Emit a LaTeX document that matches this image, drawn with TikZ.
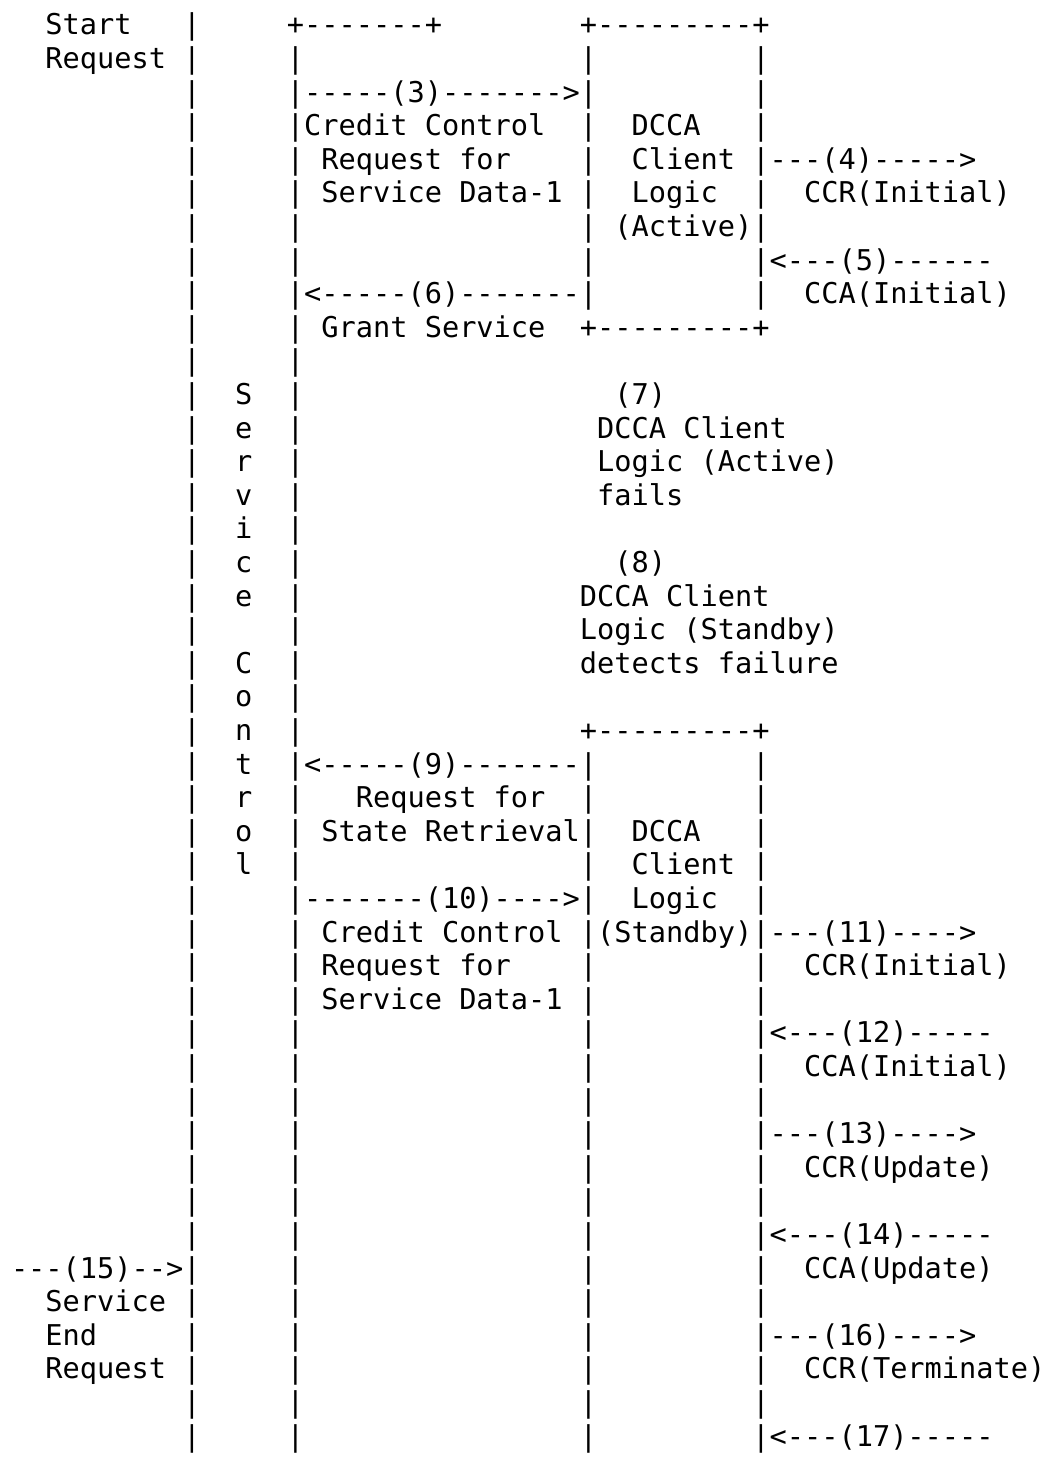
\documentclass[tikz,border=0pt]{standalone}
\usepackage{fontspec}
\setmonofont{DejaVu Sans Mono}
\begin{document}
\begin{tikzpicture}[x=8.62pt, y=-16.8pt,
  ch/.style={inner sep=0pt, outer sep=0pt, anchor=base west,
    font=\ttfamily\fontsize{14.32pt}{16.8pt}\selectfont}]
% page frame
\fill[white] (0pt,0pt) rectangle (523.5pt,-731pt);
\useasboundingbox (0pt,0pt) rectangle (523.5pt,-731pt);

\begin{scope}[xshift=5.5pt]
% vertical bars of the four lifelines
\foreach \r in {1,...,43} \node[ch] (ba\r) at (10,\r+0.04) {|};
\foreach \r in {2,...,43} \node[ch] (bb\r) at (16,\r+0.04) {|};
\foreach \r in {2,...,9,23,24,...,43} {
  \node[ch] (bc\r) at (33,\r+0.04) {|};
  \node[ch] (bd\r) at (43,\r+0.04) {|};
}

% labels, box edges and message arrows: row / column / text
\foreach \r/\c/\t in {
  1/2/Start, 1/16/+-------+, 1/33/+---------+,
  2/2/Request,
  3/17/-----(3)------->,
  4/17/Credit Control, 4/36/DCCA,
  5/18/Request for, 5/36/Client, 5/44/---(4)----->,
  6/18/Service Data-1, 6/36/Logic, 6/46/CCR(Initial),
  7/35/(Active),
  8/44/<---(5)------,
  9/17/<-----(6)-------, 9/46/CCA(Initial),
  10/18/Grant Service, 10/33/+---------+,
  12/13/S, 12/35/(7),
  13/13/e, 13/34/DCCA Client,
  14/13/r, 14/34/Logic (Active),
  15/13/v, 15/34/fails,
  16/13/i,
  17/13/c, 17/35/(8),
  18/13/e, 18/33/DCCA Client,
  19/33/Logic (Standby),
  20/13/C, 20/33/detects failure,
  21/13/o,
  22/13/n, 22/33/+---------+,
  23/13/t, 23/17/<-----(9)-------,
  24/13/r, 24/20/Request for,
  25/13/o, 25/18/State Retrieval, 25/36/DCCA,
  26/13/l, 26/36/Client,
  27/17/-------(10)---->, 27/36/Logic,
  28/18/Credit Control, 28/34/(Standby), 28/44/---(11)---->,
  29/18/Request for, 29/46/CCR(Initial),
  30/18/Service Data-1,
  31/44/<---(12)-----,
  32/46/CCA(Initial),
  34/44/---(13)---->,
  35/46/CCR(Update),
  37/44/<---(14)-----,
  38/0/---(15)-->, 38/46/CCA(Update),
  39/2/Service,
  40/2/End, 40/44/---(16)---->,
  41/2/Request, 41/46/CCR(Terminate),
  43/44/<---(17)-----}
  \node[ch] (t\r-\c) at (\c,\r+0.04) {\t};
\end{scope}
\end{tikzpicture}
\end{document}
